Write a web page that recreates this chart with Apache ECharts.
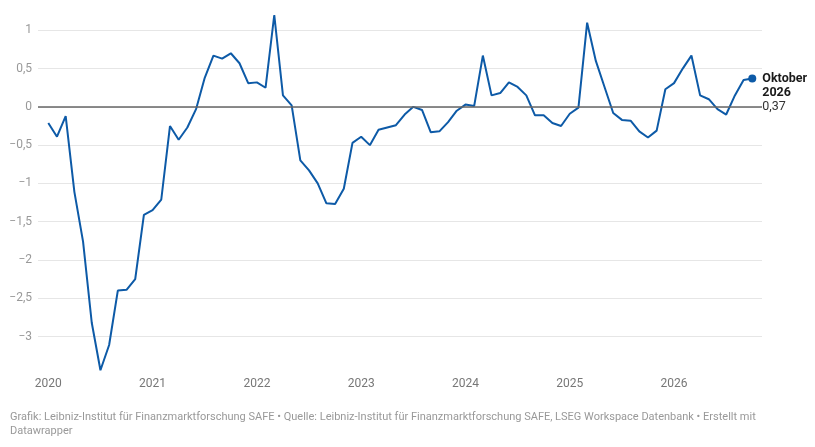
<!DOCTYPE html>
<html>
<head>
<meta charset="utf-8">
<script src="https://cdn.jsdelivr.net/npm/echarts@6/dist/echarts.min.js"></script>
<style>
  html, body { margin: 0; padding: 0; background: #fff; }
  #chart { width: 815px; height: 447px; }
</style>
</head>
<body>
<div id="chart"></div>
<script>
// monthly values, Jan 2020 .. Oct 2026
const values = [
  -0.21, -0.39, -0.12, -1.11, -1.76, -2.82, -3.44, -3.11, -2.40, -2.39, -2.25, -1.41,
  -1.35, -1.21, -0.25, -0.43, -0.27, -0.03, 0.38, 0.67, 0.63, 0.70, 0.57, 0.31,
  0.32, 0.25, 1.20, 0.15, 0.02, -0.70, -0.83, -1.00, -1.26, -1.27, -1.07, -0.47,
  -0.39, -0.50, -0.30, -0.27, -0.24, -0.10, 0.00, -0.04, -0.33, -0.32, -0.20, -0.05,
  0.03, 0.01, 0.67, 0.15, 0.18, 0.32, 0.26, 0.15, -0.11, -0.11, -0.21, -0.25,
  -0.09, -0.01, 1.10, 0.60, 0.26, -0.08, -0.17, -0.18, -0.32, -0.40, -0.31, 0.23,
  0.31, 0.50, 0.67, 0.15, 0.10, -0.03, -0.10, 0.15, 0.35, 0.37
];
const years = ['2020', '2021', '2022', '2023', '2024', '2025', '2026'];
const yearTicks = years.map((y, i) => i * 12);
const endMonth = 'Oktober';
const footer = 'Grafik: Leibniz-Institut für Finanzmarktforschung SAFE • Quelle: Leibniz-Institut für Finanzmarktforschung SAFE, LSEG Workspace Datenbank • Erstellt mit\nDatawrapper';

const fmt = v => String(v).replace('.', ',').replace('-', '\u2212');

const last = values.length - 1;
const seriesData = values.map((v, i) => {
  if (i !== last) return [i, v];
  return {
    value: [i, v],
    symbol: 'circle',
    symbolSize: 8,
    label: {
      show: true,
      position: 'right',
      distance: 6,
      offset: [0, 14],
      formatter: '{b|' + endMonth + '}\n{b|' + years[years.length - 1] + '}\n{n|' + fmt(v) + '}',
      rich: {
        b: { fontFamily: 'Roboto', fontWeight: 'bold', fontSize: 12.5, color: '#1a1a1a', lineHeight: 14 },
        n: { fontFamily: 'Roboto', fontSize: 12.5, color: '#333', lineHeight: 14 }
      }
    }
  };
});

const chart = echarts.init(document.getElementById('chart'));
chart.setOption({
  animation: false,
  textStyle: { fontFamily: 'Roboto' },
  grid: { left: 38, right: 53, top: 15, bottom: 76 },
  xAxis: {
    type: 'value',
    min: -1.185,
    max: 82.12,
    axisLine: { show: false },
    axisTick: { show: false },
    splitLine: { show: false },
    axisLabel: {
      customValues: yearTicks,
      formatter: v => years[v / 12],
      color: '#777',
      fontSize: 12,
      margin: 7
    }
  },
  yAxis: {
    type: 'value',
    min: -3.45,
    max: 1.2,
    splitNumber: 10,
    minInterval: 0.5,
    maxInterval: 0.5,
    axisLine: { show: false },
    axisTick: { show: false },
    axisLabel: {
      showMinLabel: false,
      showMaxLabel: false,
      color: '#999',
      fontSize: 12,
      margin: 6,
      formatter: fmt
    },
    splitLine: {
      showMinLine: false,
      showMaxLine: false,
      lineStyle: { color: '#e6e6e6', width: 1 }
    }
  },
  series: [
    {
      type: 'line',
      data: seriesData,
      symbol: 'none',
      showSymbol: true,
      lineStyle: { color: '#0d5aa7', width: 2 },
      itemStyle: { color: '#0d5aa7' },
      silent: true,
      markLine: {
        silent: true,
        symbol: 'none',
        label: { show: false },
        lineStyle: { color: '#666', width: 1.5, type: 'solid' },
        data: [{ yAxis: 0 }]
      },
      z: 3
    }
  ],
  graphic: [
    {
      type: 'text',
      left: 10,
      top: 410,
      style: {
        text: footer,
        fontFamily: 'Roboto',
        fontSize: 11,
        lineHeight: 14,
        fill: '#999'
      }
    }
  ]
});
</script>
</body>
</html>
